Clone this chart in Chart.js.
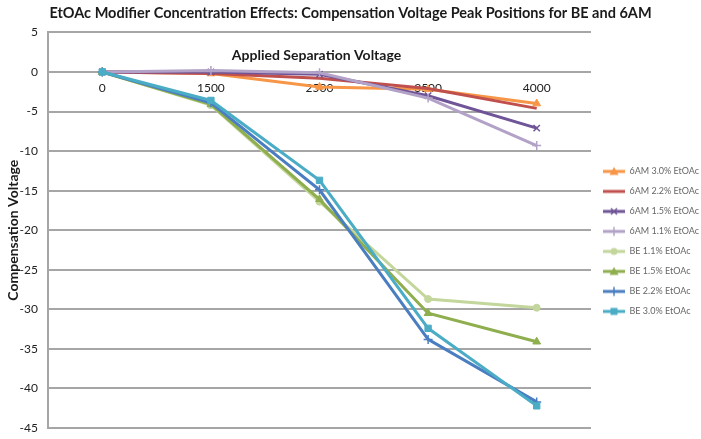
<!DOCTYPE html>
<html>
<head>
<meta charset="utf-8">
<script src="https://cdn.jsdelivr.net/npm/chart.js@4/dist/chart.umd.min.js"></script>
<style>
  html, body { margin: 0; padding: 0; background: #fff; }
  #wrap { width: 701px; height: 439px; }
</style>
</head>
<body>
<div id="wrap"><canvas id="cvChart"></canvas></div>
<script>
let labels = ['0', '1500', '2500', '3500', '4000'];

let seriesNames = [
    '6AM 3.0% EtOAc',
    '6AM 2.2% EtOAc',
    '6AM 1.5% EtOAc',
    '6AM 1.1% EtOAc',
    'BE 1.1% EtOAc',
    'BE 1.5% EtOAc',
    'BE 2.2% EtOAc',
    'BE 3.0% EtOAc'
];

let am30 = [0, -0.2, -1.9, -2.2, -4.0];
let am22 = [0, -0.2, -0.8, -2.1, -4.6];
let am15 = [0, 0.0, -0.3, -3.0, -7.1];
let am11 = [0, 0.2, -0.1, -3.3, -9.3];
let be11 = [0, -4.2, -16.4, -28.7, -29.8];
let be15 = [0, -4.1, -16.1, -30.5, -34.1];
let be22 = [0, -3.9, -14.9, -33.8, -41.7];
let be30 = [0, -3.6, -13.7, -32.4, -42.2];

let lineColors = ['#F79646', '#C0504D', '#6F5597', '#B3A2C7', '#C3D69B', '#8FAE4E', '#4A7EC0', '#4BACC6'];
let markers = ['triangle', false, 'crossRot', 'cross', 'circle', 'triangle', 'cross', 'rect'];

const FONT = 'Lato, "Liberation Sans", sans-serif';

// little legend sample: line with the marker on it
function sample(color, style) {
    const c = document.createElement('canvas');
    c.width = 23; c.height = 12;
    const g = c.getContext('2d');
    g.strokeStyle = color; g.fillStyle = color; g.lineWidth = 3;
    g.beginPath(); g.moveTo(1, 6); g.lineTo(23, 6); g.stroke();
    g.lineWidth = 1.5;
    const cx = 12;
    if (style === 'triangle') {
        g.beginPath(); g.moveTo(cx, 1.5); g.lineTo(cx + 4.5, 9.5); g.lineTo(cx - 4.5, 9.5); g.closePath(); g.fill();
    } else if (style === 'rect') {
        g.fillRect(cx - 3.5, 2.5, 7, 7);
    } else if (style === 'circle') {
        g.beginPath(); g.arc(cx, 6, 3.5, 0, Math.PI * 2); g.fill();
    } else if (style === 'cross') {
        g.beginPath(); g.moveTo(cx, 1.5); g.lineTo(cx, 10.5); g.stroke();
    } else if (style === 'crossRot') {
        g.beginPath(); g.moveTo(cx - 3, 3); g.lineTo(cx + 3, 9); g.moveTo(cx + 3, 3); g.lineTo(cx - 3, 9); g.stroke();
    }
    return c;
}

let allData = [am30, am22, am15, am11, be11, be15, be22, be30];

const datasets = allData.map((d, i) => ({
    label: seriesNames[i],
    data: d,
    borderColor: lineColors[i],
    backgroundColor: lineColors[i],
    borderWidth: 3,
    pointStyle: markers[i],
    pointRadius: markers[i] ? (markers[i] === 'circle' ? 3.5 : 4.5) : 0,
    pointBorderWidth: markers[i] === 'cross' || markers[i] === 'crossRot' ? 1.5 : 1,
    tension: 0,
    order: allData.length - i
}));

const innerTitle = {
    id: 'innerTitle',
    afterDraw(chart) {
        const ctx = chart.ctx;
        const area = chart.chartArea;
        ctx.save();
        ctx.font = 'bold 14px ' + FONT;
        ctx.fillStyle = '#1a1a1a';
        ctx.textAlign = 'center';
        ctx.textBaseline = 'middle';
        ctx.fillText('Applied Separation Voltage', (area.left + area.right) / 2 - 3, chart.scales.y.getPixelForValue(2.1));
        ctx.restore();
    }
};

const config = {
    type: 'line',
    data: { labels: labels, datasets: datasets },
    plugins: [innerTitle],
    options: {
        responsive: true,
        maintainAspectRatio: false,
        animation: false,
        layout: { padding: { left: 0, right: 0, top: 0, bottom: 11 } },
        plugins: {
            title: {
                display: true,
                text: 'EtOAc Modifier Concentration Effects: Compensation Voltage Peak Positions for BE and 6AM',
                color: '#1a1a1a',
                font: { family: FONT, size: 14.5, weight: 'bold' },
                padding: { top: 5, bottom: 10 }
            },
            legend: {
                position: 'right',
                maxWidth: 110,
                title: { display: true, text: ' ', font: { size: 9 }, padding: { top: 44, bottom: 0 } },
                labels: {
                    usePointStyle: true,
                    pointStyleWidth: 23,
                    color: '#222',
                    font: { family: FONT, size: 9 },
                    padding: 11,
                    generateLabels(chart) {
                        return chart.data.datasets.map((ds, i) => ({
                            text: ds.label,
                            pointStyle: sample(lineColors[i], markers[i]),
                            fillStyle: lineColors[i],
                            strokeStyle: lineColors[i],
                            lineWidth: 0,
                            datasetIndex: i,
                            hidden: false
                        }));
                    }
                }
            },
            tooltip: { enabled: false }
        },
        scales: {
            x: {
                position: { y: 0 },
                offset: true,
                afterFit(scale) { scale.height = 0; scale.paddingBottom = 0; },
                grid: { display: false, drawTicks: false },
                border: { display: false },
                ticks: { color: '#222', font: { family: FONT, size: 12 }, padding: 9 }
            },
            y: {
                min: -45,
                max: 5,
                afterFit(scale) { scale.width = 48; scale.paddingBottom = 0; },
                ticks: { stepSize: 5, color: '#222', font: { family: FONT, size: 12 }, padding: 10 },
                grid: { color: '#a6a6a6', lineWidth: 2, drawTicks: false },
                border: { color: '#a6a6a6', width: 2 },
                title: {
                    display: true,
                    text: 'Compensation Voltage',
                    color: '#1a1a1a',
                    font: { family: FONT, size: 14, weight: 'bold' },
                    padding: { top: 5, bottom: 0 }
                }
            }
        }
    }
};

const chart = new Chart(document.getElementById('cvChart'), config);
</script>
</body>
</html>
